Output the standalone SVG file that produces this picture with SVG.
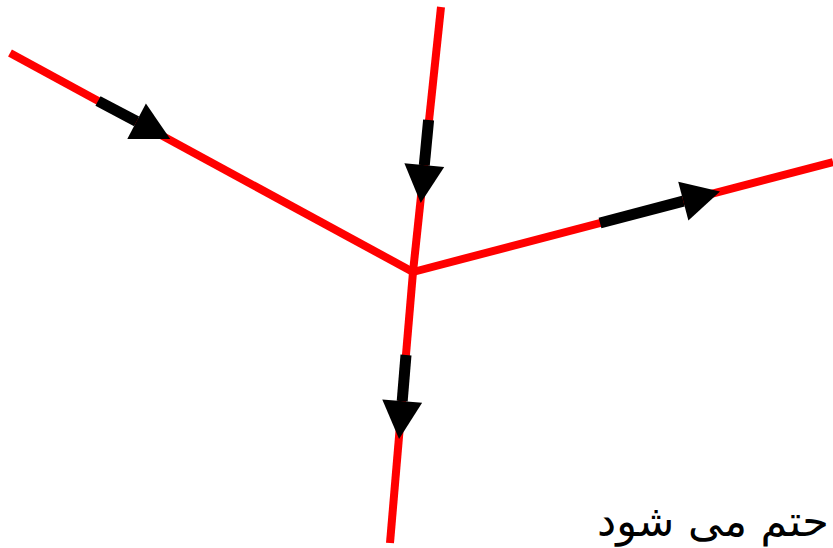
<svg xmlns="http://www.w3.org/2000/svg" width="833" height="548" viewBox="0 0 833 548">
<defs>
<style>
.edge{stroke:#ff0000;stroke-width:8;fill:none}
.arr{stroke:#000;stroke-width:11;fill:none;marker-end:url(#head)}
.lbl{font-family:"DejaVu Sans",sans-serif;font-size:43px;fill:#000}
</style>
<marker id="head" markerUnits="userSpaceOnUse" markerWidth="40" markerHeight="42" refX="0" refY="21" orient="auto" overflow="visible">
<path d="M0,1 L38,21 L0,41 z" fill="#000"/>
</marker>
</defs>
<rect width="833" height="548" fill="#fff"/>
<g id="connectors">
<line class="edge" x1="10" y1="53" x2="413" y2="272"/>
<line class="edge" x1="441" y1="7" x2="413" y2="272"/>
<line class="edge" x1="413" y1="272" x2="833" y2="162"/>
<line class="edge" x1="413" y1="272" x2="390" y2="543"/>
<line class="arr" x1="98" y1="101" x2="136.6" y2="121.3"/>
<line class="arr" x1="428.6" y1="120" x2="424.3" y2="165.2"/>
<line class="arr" x1="600" y1="223" x2="683.3" y2="201.1"/>
<line class="arr" x1="406" y1="355" x2="402.2" y2="401.1"/>
</g>
<g id="label">
<text class="lbl" x="597" y="536">حتم می شود</text>
</g>
</svg>
